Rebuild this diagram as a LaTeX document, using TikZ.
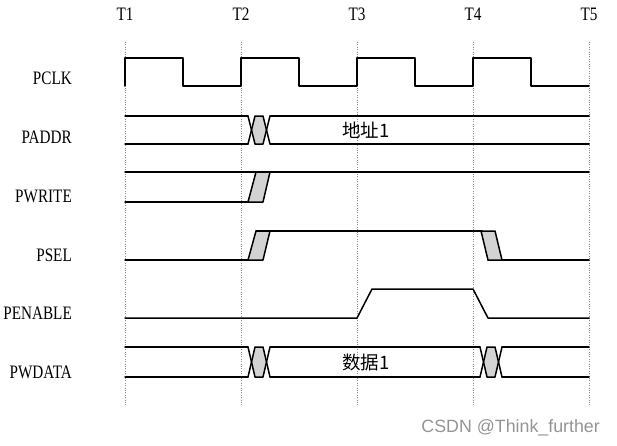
\documentclass[tikz,border=0pt]{standalone}
\usepackage{fontspec}
\newfontfamily\sigfont[FakeStretch=0.8]{Liberation Serif}
\newfontfamily\cjkfont{Noto Sans CJK SC}
\newfontfamily\markfont{Liberation Sans}
\usepackage{xcolor}
\definecolor{slotgray}{RGB}{211,211,211}
\definecolor{guidegray}{RGB}{140,140,140}
\newcommand{\busx}[3]{%
  \fill[slotgray] (#1+3.5,#2/2+#3/2) -- (#1+7,#2) -- (#1+15,#2) -- (#1+18.5,#2/2+#3/2) -- (#1+15,#3) -- (#1+7,#3) -- cycle;
  \draw[wave] (#1,#2) -- (#1+7,#3) -- (#1+15,#3) -- (#1+22,#2);
  \draw[wave] (#1,#3) -- (#1+7,#2) -- (#1+15,#2) -- (#1+22,#3);}

\begin{document}
\begin{tikzpicture}[x=1pt,y=-1pt,line cap=round,line join=round,
  wave/.style={line width=1.5pt},
  slant/.style={wave,fill=slotgray},
  guide/.style={guidegray,line cap=butt,dash pattern=on .8pt off 1.6pt,line width=.9pt},
  sig/.style={anchor=east,inner sep=0pt,font=\sigfont\fontsize{19}{19}\selectfont},
  tlab/.style={inner sep=0pt,font=\sigfont\fontsize{19}{19}\selectfont},
  busval/.style={inner sep=0pt,font=\cjkfont\fontsize{18.5}{18.5}\selectfont}]
  \useasboundingbox (0,0) rectangle (617,445);
  \foreach \i/\x in {1/125,2/241,3/357,4/473,5/589}{\node[tlab] (t\i) at (\x,14) {T\i}; \draw[guide] (\x,42) -- (\x,405);}
  \foreach \n/\y/\lab in {clk/78/PCLK,addr/137/PADDR,write/196/PWRITE,sel/255/PSEL,en/313/PENABLE,data/372/PWDATA}{\node[sig] (\n) at (72,\y) {\lab};}
  \draw[wave] (125,86) \foreach \k in {0,...,3}{ -- ++(0,-28) -- ++(58,0) -- ++(0,28) -- ++(58,0)};
  \draw[wave] (125,116) -- (248,116) (270,116) -- (589,116) (125,144) -- (248,144) (270,144) -- (589,144);
  \busx{248}{116}{144}
  \node[busval] (addrval) at (366,130) {地址1};
  \draw[wave] (125,172) -- (589,172) (125,202) -- (248,202);
  \draw[slant] (248,202) -- (256,172) -- (270,172) -- (263,202) -- cycle;
  \draw[wave] (125,260) -- (248,260) (256,231) -- (482,231) (488,260) -- (589,260);
  \draw[slant] (248,260) -- (256,231) -- (270,231) -- (263,260) -- cycle;
  \draw[slant] (481,231) -- (495,231) -- (502,260) -- (488,260) -- cycle;
  \draw[wave] (125,318) -- (357,318) -- (372,289) -- (473,289) -- (488,318) -- (589,318);
  \draw[wave] (125,347) -- (248,347) (270,347) -- (480,347) (502,347) -- (589,347)
    (125,377) -- (248,377) (270,377) -- (480,377) (502,377) -- (589,377);
  \foreach \x in {248,480}{\busx{\x}{347}{377}}
  \node[busval] (dataval) at (366,362) {数据1};
  \node[anchor=base east,inner sep=0pt,black!42,font=\markfont\fontsize{17.8}{17.8}\selectfont] (wm) at (600,432) {CSDN @Think\_further};
\end{tikzpicture}
\end{document}
